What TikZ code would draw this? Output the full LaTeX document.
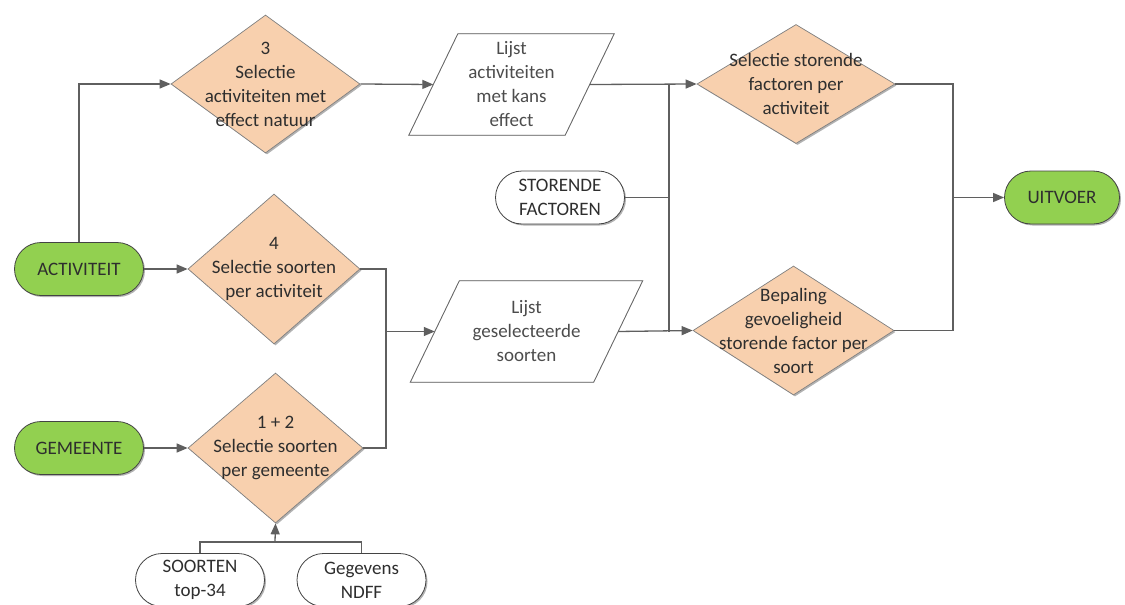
\documentclass[tikz,border=0pt]{standalone}
\usepackage{fontspec}
\setmainfont{Carlito}
\usepackage{xcolor}
\usepackage{tikz}
\usetikzlibrary{shapes.geometric, shapes.misc, arrows.meta, shadows}

\definecolor{peach}{HTML}{F8D0AE}
\definecolor{leaf}{HTML}{92D050}
\definecolor{wire}{HTML}{5F5F5F}
\definecolor{inkgray}{HTML}{2E2E2E}

\begin{document}
\begin{tikzpicture}[x=1pt, y=-1pt,
    font=\fontsize{19}{24}\selectfont,
    shade/.style={drop shadow={shadow xshift=1.5pt, shadow yshift=-1.5pt, opacity=0.3, fill=black}},
    term/.style={rounded rectangle, draw=inkgray!90, line width=0.8pt, minimum width=133pt, minimum height=53pt, inner sep=2pt, align=center, text=inkgray, shade},
    start/.style={term, fill=leaf},
    input/.style={term, fill=white},
    choice/.style={diamond, draw=gray, line width=0.7pt, fill=peach, inner sep=0pt, shade},
    data/.style={rectangle, minimum height=101pt, inner sep=2pt, align=center, text=gray!60!black},
    slant/.style={draw=gray!80!black, line width=0.8pt, line join=miter},
    arr/.style={draw=wire, line width=1.3pt, -{Triangle[length=11pt, width=9pt]}},
    ln/.style={draw=wire, line width=1.3pt}
]
    \useasboundingbox (0,0) rectangle (1125,605);

    % begin en eind
    \node[start] (act) at (79,269) {ACTIVITEIT};
    \node[start] (gem) at (79,448) {GEMEENTE};
    \node[start, minimum width=119pt] (uit) at (1062,197.5) {UITVOER};
    \node[input] (sf) at (560,197.5) {STORENDE\\FACTOREN};
    \node[input] (soo) at (200,580) {SOORTEN\\top-34};
    \node[input] (ndff) at (361.5,580) {Gegevens\\NDFF};

    % keuzes
    \node[choice, minimum width=189pt, minimum height=138pt,
          label={[text=inkgray, align=center]center:3\\Selectie\\activiteiten met\\effect natuur}] (d3) at (265.5,84) {};
    \node[choice, minimum width=172pt, minimum height=150pt,
          label={[text=inkgray, align=center]center:4\\Selectie soorten\\per activiteit}] (d4) at (274,269) {};
    \node[choice, minimum width=175pt, minimum height=150pt,
          label={[text=inkgray, align=center]center:1 + 2\\Selectie soorten\\per gemeente}] (d12) at (275.5,448) {};
    \node[choice, minimum width=198pt, minimum height=119pt,
          label={[text=inkgray, align=center]center:Selectie storende\\factoren per\\activiteit}] (d5) at (796,84) {};
    \node[choice, minimum width=201pt, minimum height=129pt,
          label={[text=inkgray, align=center]center:Bepaling\\gevoeligheid\\storende factor per\\soort}] (d6) at (793.5,330.5) {};

    % lijsten
    \node[data, minimum width=156pt] (p1) at (511.5,84.5) {Lijst\\activiteiten\\met kans\\effect};
    \node[data, minimum width=183pt] (p2) at (526.5,331.5) {Lijst\\geselecteerde\\soorten};
    \foreach \p in {p1,p2} {
        \draw[slant, draw=gray!35, shift={(1.5,1.5)}]
            ([xshift=24.5pt]\p.north west) -- ([xshift=24.5pt]\p.north east)
            -- ([xshift=-24.5pt]\p.south east) -- ([xshift=-24.5pt]\p.south west) -- cycle;
        \draw[slant]
            ([xshift=24.5pt]\p.north west) -- ([xshift=24.5pt]\p.north east)
            -- ([xshift=-24.5pt]\p.south east) -- ([xshift=-24.5pt]\p.south west) -- cycle;
    }

    % knooppunten
    \coordinate (j2) at (386,331.5);
    \coordinate (jt) at (669,84);
    \coordinate (js) at (669,197.5);
    \coordinate (jb) at (669,331.5);
    \coordinate (jr) at (953,197.5);
    \coordinate (jm) at (275,542);

    % verbindingen
    \draw[arr] (act.north) |- (d3.west);
    \draw[arr] (act.east) -- (d4.west);
    \draw[arr] (gem.east) -- (d12.west);
    \draw[ln] (d4.east) -| (j2) |- (d12.east);
    \draw[arr] (j2) -- (p2.west);
    \draw[arr] (d3.east) -- (p1.west);
    \draw[arr] (p1.east) -- (d5.west);
    \draw[arr] (p2.east) -- (d6.west);
    \draw[ln] (sf.east) -- (js);
    \draw[ln] (jt) -- (jb);
    \draw[ln] (d5.east) -| (jr) |- (d6.east);
    \draw[arr] (jr) -- (uit.west);
    \draw[ln] (soo.north) |- (jm) -| (ndff.north);
    \draw[arr] (jm) -- (d12.south);
\end{tikzpicture}
\end{document}
